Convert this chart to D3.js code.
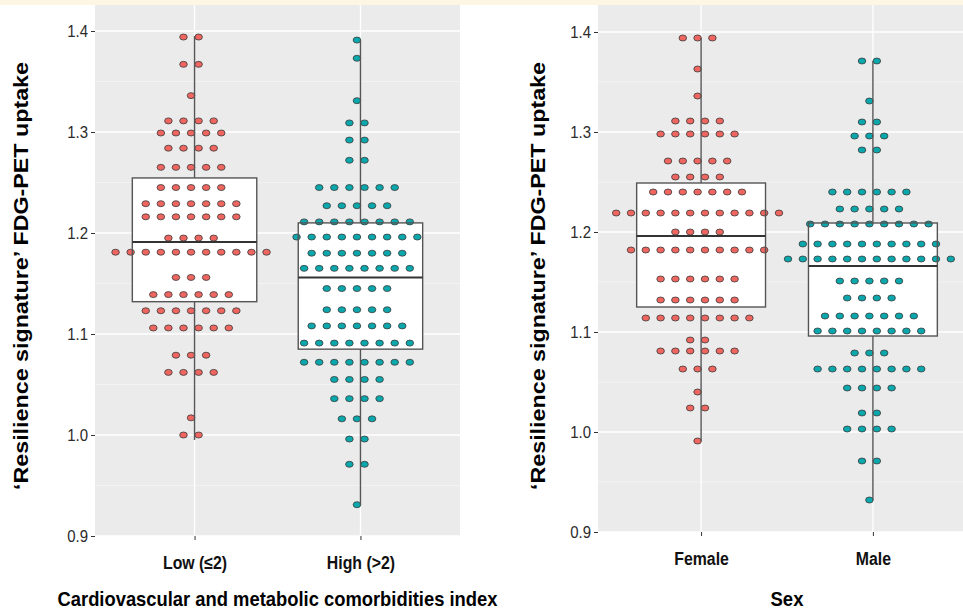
<!DOCTYPE html>
<html>
<head>
<meta charset="utf-8">
<script src="https://cdn.jsdelivr.net/npm/d3@7"></script>
<style>
  body { margin: 0; background: #fff; }
  svg { display: block; }
  text { font-family: 'Liberation Sans', Arial, sans-serif; }
</style>
</head>
<body>
<div id="chart"></div>
<script>
// dot stacks: [value, number of dots in the row]
var lowDots = [[1.394,2],[1.367,2],[1.336,1],[1.311,4],[1.299,5],[1.284,4],[1.265,5],[1.245,5],
  [1.229,7],[1.216,7],[1.195,4],[1.181,11],[1.156,3],[1.139,6],[1.123,7],[1.106,6],
  [1.079,3],[1.062,4],[1.017,1],[1.000,2]];
var highDots = [[1.391,1],[1.373,1],[1.331,1],[1.309,2],[1.292,2],[1.272,2],[1.245,6],[1.227,5],
  [1.211,8],[1.196,9],[1.180,7],[1.165,8],[1.145,5],[1.124,5],[1.108,7],[1.091,8],
  [1.072,8],[1.055,4],[1.036,4],[1.016,3],[0.996,2],[0.971,2],[0.931,1]];
var femaleDots = [[1.394,3],[1.363,1],[1.336,1],[1.311,4],[1.298,6],[1.271,5],[1.255,4],[1.240,7],
  [1.219,12],[1.200,4],[1.182,10],[1.153,6],[1.132,6],[1.114,8],[1.092,2],[1.081,6],
  [1.063,3],[1.040,1],[1.024,2],[0.991,1]];
var maleDots = [[1.371,2],[1.331,1],[1.310,2],[1.296,3],[1.282,2],[1.240,6],[1.223,5],[1.208,9],
  [1.188,10],[1.173,12],[1.151,5],[1.134,4],[1.116,7],[1.101,8],[1.079,3],[1.063,8],
  [1.044,4],[1.019,2],[1.003,4],[0.971,2],[0.932,1]];

// box stats: [lower whisker, q1, median, q3, upper whisker]
var cmLevels = ['Low (\u22642)', 'High (>2)'];
var cmStats = [[0.995, 1.132, 1.191, 1.2545, 1.395], [0.931, 1.085, 1.156, 1.210, 1.391]];
var sexLevels = ['Female', 'Male'];
var sexStats = [[0.991, 1.125, 1.196, 1.249, 1.394], [0.932, 1.096, 1.166, 1.209, 1.371]];

var yTicks = [0.9, 1.0, 1.1, 1.2, 1.3, 1.4];
var yMinor = [0.95, 1.05, 1.15, 1.25, 1.35];
var fills = ['#EE665F', '#0AA8AC'];
var yTitle = '\u2018Resilience signature\u2019 FDG-PET uptake';

var W = 963, H = 611;
var svg = d3.select('#chart').append('svg').attr('width', W).attr('height', H);

// squeeze text a little, the original uses a narrow face
function narrow(sel, f) {
  sel.each(function() {
    var len = this.getComputedTextLength();
    d3.select(this).attr('textLength', len * f).attr('lengthAdjust', 'spacingAndGlyphs');
  });
}

// cream strip along the top
svg.append('rect').attr('x', 0).attr('y', 0).attr('width', W).attr('height', 5).attr('fill', '#FDF6E3');

var panels = [
  { levels: cmLevels, stats: cmStats, dots: [lowDots, highDots], x0: 95, x1: 460, yTop: 5, y14: 31, y09: 536,
    step: 15.1, ytitleX: 28, xtitle: 'Cardiovascular and metabolic comorbidities index', xtitleW: 440 },
  { levels: sexLevels, stats: sexStats, dots: [femaleDots, maleDots], x0: 598, x1: 976, yTop: 5, y14: 32, y09: 532,
    step: 14.8, ytitleX: 545, xtitle: 'Sex', xtitleW: 0 }
];

panels.forEach(function(p, pi) {
  var y = d3.scaleLinear().domain([0.9, 1.4]).range([p.y09, p.y14]);
  var x = d3.scalePoint().domain(p.levels).range([p.x0, p.x1]).padding(0.6);
  var unit = x.step();
  var g = svg.append('g');

  g.append('rect').attr('x', p.x0).attr('y', p.yTop).attr('width', p.x1 - p.x0)
    .attr('height', p.y09 - p.yTop).attr('fill', '#EBEBEB');

  // grid
  g.selectAll('.minor').data(yMinor).enter().append('line')
    .attr('x1', p.x0).attr('x2', p.x1).attr('y1', y).attr('y2', y)
    .attr('stroke', '#F5F5F5').attr('stroke-width', 0.8);
  g.selectAll('.major').data(yTicks).enter().append('line')
    .attr('x1', p.x0).attr('x2', p.x1).attr('y1', y).attr('y2', y)
    .attr('stroke', '#fff').attr('stroke-width', 1.3);
  g.selectAll('.vmajor').data(p.levels).enter().append('line')
    .attr('x1', x).attr('x2', x).attr('y1', p.yTop).attr('y2', p.y09)
    .attr('stroke', '#fff').attr('stroke-width', 1.3);

  var bw = unit * 0.75;
  // box fills
  g.selectAll('.boxfill').data(p.stats).enter().append('rect')
    .attr('x', function(d, i) { return x(p.levels[i]) - bw / 2; })
    .attr('y', function(d) { return y(d[3]); })
    .attr('width', bw)
    .attr('height', function(d) { return y(d[1]) - y(d[3]); })
    .attr('fill', '#fff');

  // dots
  p.dots.forEach(function(rows, gi) {
    var cx = x(p.levels[gi]) - 3.5;
    var pts = [];
    rows.forEach(function(r) {
      for (var k = 0; k < r[1]; k++) pts.push({ v: r[0], off: (k - (r[1] - 1) / 2) * p.step });
    });
    g.selectAll('.dot' + gi).data(pts).enter().append('ellipse')
      .attr('cx', function(d) { return cx + d.off; })
      .attr('cy', function(d) { return y(d.v); })
      .attr('rx', 3.8).attr('ry', 3.0)
      .attr('fill', fills[gi]).attr('stroke', '#3a3a3a').attr('stroke-width', 0.8);
  });

  // box outlines, whiskers, medians
  var line = '#555';
  p.stats.forEach(function(d, i) {
    var cx = x(p.levels[i]);
    g.append('line').attr('x1', cx).attr('x2', cx).attr('y1', y(d[3])).attr('y2', y(d[4]))
      .attr('stroke', line).attr('stroke-width', 1.4);
    g.append('line').attr('x1', cx).attr('x2', cx).attr('y1', y(d[1])).attr('y2', y(d[0]))
      .attr('stroke', line).attr('stroke-width', 1.4);
    g.append('rect').attr('x', cx - bw / 2).attr('y', y(d[3])).attr('width', bw)
      .attr('height', y(d[1]) - y(d[3])).attr('fill', 'none').attr('stroke', line).attr('stroke-width', 1.4);
    g.append('line').attr('x1', cx - bw / 2).attr('x2', cx + bw / 2).attr('y1', y(d[2])).attr('y2', y(d[2]))
      .attr('stroke', '#333').attr('stroke-width', 2);
  });

  // y axis
  var ya = g.append('g').attr('transform', 'translate(' + p.x0 + ',0)')
    .call(d3.axisLeft(y).tickValues(yTicks).tickFormat(d3.format('.1f')).tickSize(4).tickPadding(3));
  ya.select('.domain').remove();
  ya.selectAll('line').attr('stroke', '#333');
  ya.selectAll('text').attr('fill', '#2b2b2b').style('font-size', '17px').call(narrow, 0.88);

  // x axis
  var xa = g.append('g').attr('transform', 'translate(0,' + p.y09 + ')')
    .call(d3.axisBottom(x).tickSize(4).tickPadding(16));
  xa.select('.domain').remove();
  xa.selectAll('line').attr('stroke', '#333');
  xa.selectAll('text').attr('fill', '#111').style('font-size', '18px').style('font-weight', 'bold').call(narrow, 0.88);

  // titles
  var xt = svg.append('text').attr('x', (p.x0 + p.x1) / 2).attr('y', 606).attr('text-anchor', 'middle')
    .style('font-size', '21px').style('font-weight', 'bold').text(p.xtitle);
  if (p.xtitleW) xt.attr('textLength', p.xtitleW).attr('lengthAdjust', 'spacingAndGlyphs');
  else xt.call(narrow, 0.88);
  svg.append('text').attr('transform', 'translate(' + p.ytitleX + ',276) rotate(-90)')
    .attr('text-anchor', 'middle').style('font-size', '21px').style('font-weight', 'bold')
    .attr('textLength', 428).attr('lengthAdjust', 'spacingAndGlyphs')
    .text(yTitle);
});
</script>
</body>
</html>
